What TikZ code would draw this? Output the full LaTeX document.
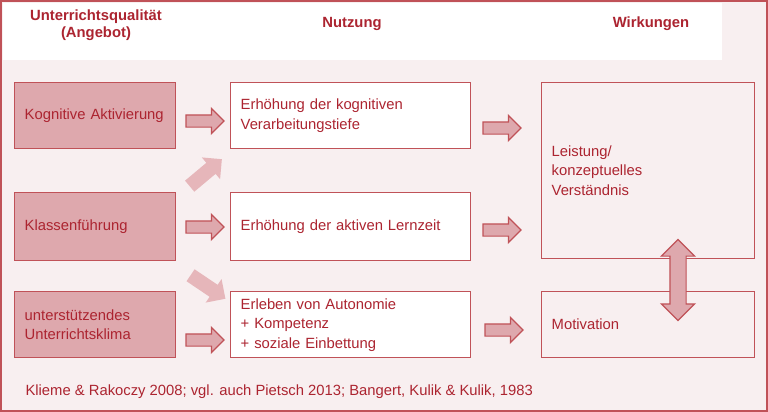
\documentclass[tikz,border=0pt]{standalone}
\usepackage{fontspec}
\setmainfont{Liberation Sans}
\usetikzlibrary{shapes.arrows}
\definecolor{frameRed}{RGB}{192,82,88}
\definecolor{textRed}{RGB}{172,36,48}
\definecolor{leftFill}{RGB}{222,168,173}
\definecolor{bgPink}{RGB}{248,239,240}
\definecolor{diagFill}{RGB}{230,182,186}
\tikzset{
  box/.style={draw=frameRed, line width=1.4pt, rectangle, inner xsep=10pt, inner ysep=0pt,
    align=left, text=textRed, font=\fontsize{14.8}{19.5}\selectfont, anchor=north west},
  leftbox/.style={box, fill=leftFill},
  midbox/.style={box, fill=white},
  rightbox/.style={box, fill=bgPink},
  head/.style={text=textRed, font=\fontsize{14.8}{17}\selectfont\bfseries, align=center},
  blockarrow/.style={single arrow, draw=frameRed, fill=leftFill, line width=1.2pt,
    inner xsep=0pt, inner ysep=5.5pt, single arrow head extend=6.5pt,
    minimum height=38pt, single arrow tip angle=90},
  diagarrow/.style={single arrow, fill=diagFill, draw=none,
    inner xsep=0pt, inner ysep=7pt, single arrow head extend=7pt,
    minimum height=42pt, single arrow tip angle=90},
  dblarrow/.style={double arrow, draw=frameRed, fill=leftFill, line width=1.2pt,
    inner xsep=0pt, inner ysep=7.5pt, double arrow head extend=8.5pt,
    minimum height=81pt, double arrow tip angle=90}
}
\begin{document}
\begin{tikzpicture}[x=1pt,y=-1pt]
\useasboundingbox (0,0) rectangle (768,412);
% background
\fill[bgPink] (0,0) rectangle (768,412);
\fill[white] (3,3) rectangle (722,60);
\draw[frameRed, line width=2pt] (1,1) rectangle (767,411);
% headings
\node[head] (h1) at (96,25) {Unterrichtsqualität\\(Angebot)};
\node[head] (h2) at (352,24) {Nutzung};
\node[head] (h3) at (651,24) {Wirkungen};
% left boxes
\node[leftbox, minimum width=161pt, minimum height=66pt, text width=141pt] (l1) at (14,82) {Kognitive Aktivierung};
\node[leftbox, minimum width=161pt, minimum height=68pt, text width=141pt] (l2) at (14,192) {Klassenführung};
\node[leftbox, minimum width=161pt, minimum height=66pt, text width=141pt] (l3) at (14,291) {unterstützendes\\Unterrichtsklima};
% middle boxes
\node[midbox, minimum width=240pt, minimum height=66pt, text width=220pt] (m1) at (230,82) {Erhöhung der kognitiven\\Verarbeitungstiefe};
\node[midbox, minimum width=240pt, minimum height=68pt, text width=220pt] (m2) at (230,192) {Erhöhung der aktiven Lernzeit};
\node[midbox, minimum width=240pt, minimum height=66pt, text width=220pt] (m3) at (230,291) {Erleben von Autonomie\\+ Kompetenz\\+ soziale Einbettung};
% right boxes
\node[rightbox, minimum width=213pt, minimum height=176pt, text width=193pt] (r1) at (541,82) {Leistung/\\konzeptuelles\\Verständnis};
\node[rightbox, minimum width=213pt, minimum height=66pt, text width=193pt] (r2) at (541,291) {Motivation};
% block arrows
\node[blockarrow] (a1) at (202,121) {};
\node[blockarrow] (a2) at (202,227) {};
\node[blockarrow] (a3) at (202,340) {};
\node[blockarrow] (b1) at (499,128) {};
\node[blockarrow] (b2) at (499,230) {};
\node[blockarrow] (b3) at (501,330) {};
% diagonal arrows
\node[diagarrow, rotate=40] (d1) at (203,175) {};
\node[diagarrow, rotate=-34] (d2) at (205,285) {};
% double arrow
\node[dblarrow, rotate=90] (v1) at (678,280) {};
% citation
\node[text=textRed, font=\fontsize{14.8}{17}\selectfont, anchor=west] (cit) at (22,392)
  {Klieme \& Rakoczy 2008; vgl. auch Pietsch 2013; Bangert, Kulik \& Kulik, 1983};
\end{tikzpicture}
\end{document}
